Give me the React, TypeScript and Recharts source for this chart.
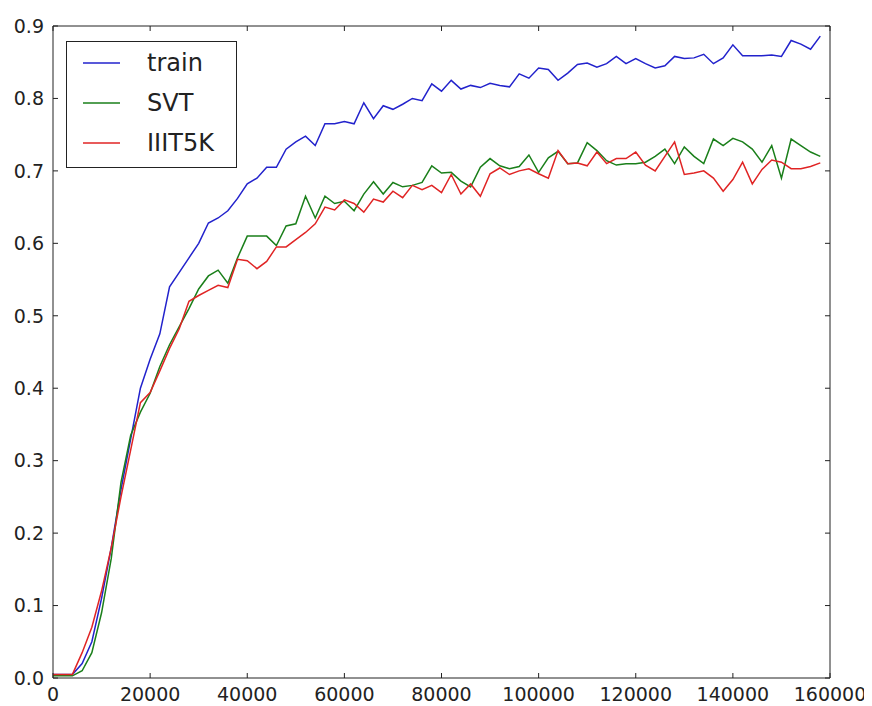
import React from 'react';
import { LineChart, Line, XAxis, YAxis, Legend, ReferenceLine } from 'recharts';

const steps = [
  0, 2000, 4000, 6000, 8000, 10000, 12000, 14000, 16000, 18000,
  20000, 22000, 24000, 26000, 28000, 30000, 32000, 34000, 36000, 38000,
  40000, 42000, 44000, 46000, 48000, 50000, 52000, 54000, 56000, 58000,
  60000, 62000, 64000, 66000, 68000, 70000, 72000, 74000, 76000, 78000,
  80000, 82000, 84000, 86000, 88000, 90000, 92000, 94000, 96000, 98000,
  100000, 102000, 104000, 106000, 108000, 110000, 112000, 114000, 116000, 118000,
  120000, 122000, 124000, 126000, 128000, 130000, 132000, 134000, 136000, 138000,
  140000, 142000, 144000, 146000, 148000, 150000, 152000, 154000, 156000, 158000,
];

const train = [
  0.005, 0.005, 0.005, 0.02, 0.05, 0.11, 0.18, 0.26, 0.33, 0.40,
  0.44, 0.475, 0.54, 0.56, 0.58, 0.60, 0.628, 0.635, 0.645, 0.662,
  0.682, 0.69, 0.705, 0.705, 0.73, 0.74, 0.748, 0.735, 0.765, 0.765,
  0.768, 0.765, 0.794, 0.772, 0.79, 0.785, 0.792, 0.80, 0.797, 0.82,
  0.81, 0.825, 0.813, 0.818, 0.815, 0.821, 0.818, 0.816, 0.834, 0.828,
  0.842, 0.84, 0.825, 0.835, 0.847, 0.849, 0.843, 0.848, 0.858, 0.848,
  0.855, 0.848, 0.842, 0.845, 0.858, 0.855, 0.856, 0.861, 0.848, 0.856,
  0.874, 0.859, 0.859, 0.859, 0.86, 0.858, 0.88, 0.875, 0.868, 0.886,
];

const svt = [
  0.003, 0.003, 0.003, 0.01, 0.035, 0.09, 0.165, 0.27, 0.335, 0.367,
  0.393, 0.43, 0.46, 0.485, 0.51, 0.537, 0.555, 0.563, 0.545, 0.58,
  0.61, 0.61, 0.61, 0.597, 0.624, 0.627, 0.665, 0.635, 0.665, 0.655,
  0.658, 0.645, 0.668, 0.685, 0.668, 0.684, 0.678, 0.68, 0.684, 0.707,
  0.697, 0.698, 0.686, 0.678, 0.705, 0.717, 0.707, 0.703, 0.706, 0.722,
  0.698, 0.718, 0.727, 0.71, 0.711, 0.739, 0.728, 0.714, 0.708, 0.71,
  0.71, 0.712, 0.72, 0.73, 0.71, 0.733, 0.72, 0.71, 0.744, 0.735,
  0.745, 0.74, 0.73, 0.712, 0.735, 0.69, 0.744, 0.735, 0.726, 0.72,
];

const iiit5k = [
  0.005, 0.005, 0.005, 0.035, 0.07, 0.12, 0.18, 0.25, 0.315, 0.38,
  0.394, 0.424, 0.455, 0.482, 0.52, 0.528, 0.535, 0.542, 0.539, 0.578,
  0.576, 0.565, 0.575, 0.595, 0.595, 0.605, 0.615, 0.627, 0.65, 0.646,
  0.66, 0.655, 0.643, 0.661, 0.657, 0.672, 0.663, 0.68, 0.674, 0.68,
  0.67, 0.695, 0.668, 0.682, 0.665, 0.696, 0.704, 0.695, 0.70, 0.703,
  0.696, 0.69, 0.728, 0.71, 0.711, 0.707, 0.726, 0.71, 0.717, 0.717,
  0.726, 0.708, 0.70, 0.72, 0.74, 0.695, 0.697, 0.70, 0.69, 0.672,
  0.688, 0.712, 0.682, 0.702, 0.715, 0.712, 0.703, 0.703, 0.706, 0.711,
];

const xTicks = [0, 20000, 40000, 60000, 80000, 100000, 120000, 140000, 160000];
const yTicks = [0, 0.1, 0.2, 0.3, 0.4, 0.5, 0.6, 0.7, 0.8, 0.9];
const xMax = 160000;
const yMax = 0.9;

const seriesNames = ['train', 'SVT', 'IIIT5K'];
const seriesColors = ['#2222cc', '#1a7f1a', '#e02424'];

const data = steps.map((s, i) => ({
  step: s,
  train: train[i],
  SVT: svt[i],
  IIIT5K: iiit5k[i],
}));

const FONT = '"DejaVu Sans", Verdana, sans-serif';
const AXIS_COLOR = '#222';
const TICK_LEN = 5;

// inward tick marks at both ends of a vertical reference line (bottom + top)
const VerticalTickShape = (p: any) => {
  const top = Math.min(p.y1, p.y2);
  const bot = Math.max(p.y1, p.y2);
  return (
    <g>
      <line x1={p.x1} x2={p.x1} y1={bot} y2={bot - TICK_LEN} stroke={AXIS_COLOR} strokeWidth={1} />
      <line x1={p.x1} x2={p.x1} y1={top} y2={top + TICK_LEN} stroke={AXIS_COLOR} strokeWidth={1} />
    </g>
  );
};

// inward tick marks at both ends of a horizontal reference line (left + right)
const HorizontalTickShape = (p: any) => {
  const left = Math.min(p.x1, p.x2);
  const right = Math.max(p.x1, p.x2);
  return (
    <g>
      <line x1={left} x2={left + TICK_LEN} y1={p.y1} y2={p.y1} stroke={AXIS_COLOR} strokeWidth={1} />
      <line x1={right} x2={right - TICK_LEN} y1={p.y1} y2={p.y1} stroke={AXIS_COLOR} strokeWidth={1} />
    </g>
  );
};

const LegendBox = (props: any) => {
  const payload = props.payload || [];
  const ordered = seriesNames
    .map((n) => payload.find((p: any) => p.value === n))
    .filter(Boolean);
  return (
    <div
      style={{
        width: 171,
        height: 127,
        boxSizing: 'border-box',
        border: `1.5px solid ${AXIS_COLOR}`,
        background: '#fff',
        paddingTop: 1,
        fontFamily: FONT,
      }}
    >
      {ordered.map((p: any) => (
        <div key={p.value} style={{ height: 40, display: 'flex', alignItems: 'center' }}>
          <svg width={80} height={40} style={{ display: 'block' }}>
            <line x1={16} x2={53} y1={20} y2={20} stroke={p.color} strokeWidth={1.5} />
          </svg>
          <span style={{ fontSize: 24, color: '#222', lineHeight: '40px' }}>{p.value}</span>
        </div>
      ))}
    </div>
  );
};

export default function App() {
  return (
    <LineChart
      width={864}
      height={698}
      data={data}
      margin={{ top: 18, right: 42, bottom: 0, left: 0 }}
    >
      <XAxis
        dataKey="step"
        type="number"
        domain={[0, xMax]}
        ticks={xTicks}
        interval={0}
        allowDataOverflow
        height={28}
        stroke={AXIS_COLOR}
        tickLine={false}
        tickSize={0}
        tickMargin={10}
        tick={{ fill: '#222', fontSize: 19, fontFamily: FONT }}
      />
      <YAxis
        type="number"
        domain={[0, yMax]}
        ticks={yTicks}
        interval={0}
        allowDataOverflow
        width={45}
        stroke={AXIS_COLOR}
        tickLine={false}
        tickSize={0}
        tickMargin={9}
        tickFormatter={(v: number) => v.toFixed(1)}
        tick={{ fill: '#222', fontSize: 19, fontFamily: FONT }}
      />
      <ReferenceLine y={yMax} stroke={AXIS_COLOR} strokeWidth={1} />
      <ReferenceLine x={xMax} stroke={AXIS_COLOR} strokeWidth={1} />
      {xTicks.map((t) => (
        <ReferenceLine key={`xt${t}`} x={t} shape={VerticalTickShape} />
      ))}
      {yTicks.map((t) => (
        <ReferenceLine key={`yt${t}`} y={t} shape={HorizontalTickShape} />
      ))}
      <Legend
        layout="vertical"
        align="center"
        verticalAlign="middle"
        content={<LegendBox />}
        wrapperStyle={{ left: 58, top: 33, width: 171, height: 127 }}
      />
      {seriesNames.map((name, i) => (
        <Line
          key={name}
          type="linear"
          dataKey={name}
          name={name}
          stroke={seriesColors[i]}
          strokeWidth={1.5}
          dot={false}
          activeDot={false}
          isAnimationActive={false}
        />
      ))}
    </LineChart>
  );
}
